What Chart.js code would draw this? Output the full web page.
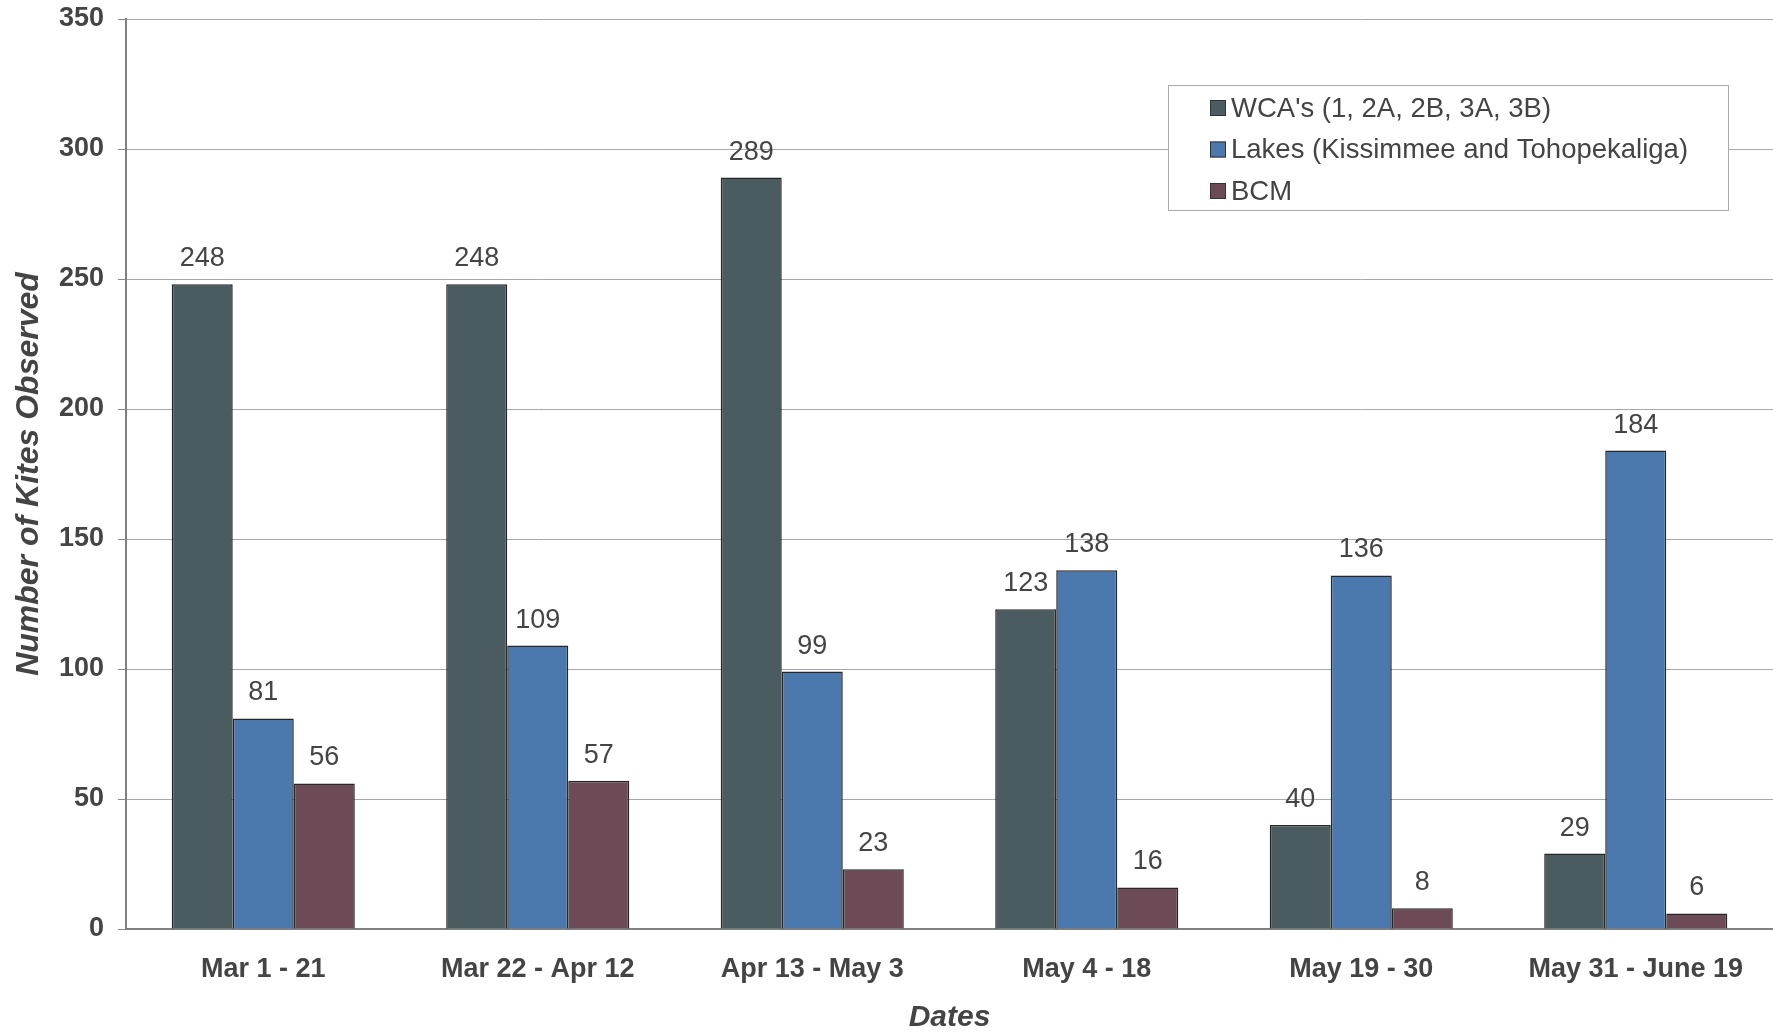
<!DOCTYPE html>
<html lang="en">
<head>
  <meta charset="UTF-8">
  <title>Number of Kites Observed</title>
  <script src="https://cdn.jsdelivr.net/npm/chart.js"></script>
  <style>
    body {
      margin: 0;
      background: #fff;
    }
    #wrap {
      width: 1773px;
      height: 1034px;
    }
  </style>
</head>
<body>

<div id="wrap">
  <canvas id="chartKites"></canvas>
</div>

<script>
  const dates = ["Mar 1 - 21", "Mar 22 - Apr 12", "Apr 13 - May 3", "May 4 - 18", "May 19 - 30", "May 31 - June 19"];
  const wcaCounts = [248, 248, 289, 123, 40, 29];
  const lakesCounts = [81, 109, 99, 138, 136, 184];
  const bcmCounts = [56, 57, 23, 16, 8, 6];

  const textColor = "#444";
  const fontFamily = "'Liberation Sans', Arial, sans-serif";

  // value above each bar
  const barValues = {
    id: "barValues",
    afterDatasetsDraw(chart) {
      const ctx = chart.ctx;
      ctx.save();
      ctx.font = "27px " + fontFamily;
      ctx.fillStyle = textColor;
      ctx.textAlign = "center";
      ctx.textBaseline = "bottom";
      chart.data.datasets.forEach((ds, i) => {
        chart.getDatasetMeta(i).data.forEach((bar, j) => {
          ctx.fillText(ds.data[j], bar.x, bar.y - 12);
        });
      });
      ctx.restore();
    }
  };

  // boxed legend inside the plot, top right
  const boxLegend = {
    id: "boxLegend",
    afterDraw(chart) {
      const ctx = chart.ctx;
      const x = 1168, y = 85, w = 560, h = 125;
      ctx.save();
      ctx.fillStyle = "#fff";
      ctx.fillRect(x, y, w, h);
      ctx.strokeStyle = "#aaa";
      ctx.lineWidth = 1;
      ctx.strokeRect(x + 0.5, y + 0.5, w, h);
      ctx.font = "27.5px " + fontFamily;
      ctx.textBaseline = "middle";
      chart.data.datasets.forEach((ds, i) => {
        const rowY = 108 + i * 41.5;
        ctx.fillStyle = ds.backgroundColor;
        ctx.fillRect(1210, rowY - 8, 16, 16);
        ctx.strokeStyle = "#333";
        ctx.strokeRect(1210.5, rowY - 7.5, 15, 15);
        ctx.fillStyle = textColor;
        ctx.fillText(ds.label, 1231, rowY + 1);
      });
      ctx.restore();
    }
  };

  new Chart(document.getElementById("chartKites"), {
    type: "bar",
    data: {
      labels: dates,
      datasets: [
        { label: "WCA's (1, 2A, 2B, 3A, 3B)", data: wcaCounts, backgroundColor: "#4a5c60" },
        { label: "Lakes (Kissimmee and Tohopekaliga)", data: lakesCounts, backgroundColor: "#4b79ae" },
        { label: "BCM", data: bcmCounts, backgroundColor: "#6c4b56" }
      ]
    },
    options: {
      responsive: true,
      maintainAspectRatio: false,
      animation: false,
      layout: { padding: { top: 19 } },
      datasets: {
        bar: {
          categoryPercentage: 0.667,
          barPercentage: 1.0,
          borderColor: "#262626",
          borderWidth: 1.5
        }
      },
      plugins: {
        legend: { display: false },
        tooltip: { enabled: false }
      },
      scales: {
        x: {
          afterFit: s => { s.height = 105; },
          grid: { display: false, offset: true, drawOnChartArea: false, tickLength: 7, tickColor: "#888" },
          border: { color: "#808080", width: 2 },
          ticks: {
            color: textColor,
            padding: 17,
            font: { family: fontFamily, size: 27, weight: "bold" }
          },
          title: {
            display: true,
            text: "Dates",
            color: textColor,
            padding: { top: 0, bottom: 0 },
            font: { family: fontFamily, size: 30, weight: "bold", style: "italic", lineHeight: 1.1 }
          }
        },
        y: {
          min: 0,
          max: 350,
          afterFit: s => {
            s.width = 126;
            s.paddingTop = 0;
            s.paddingBottom = 0;
          },
          grid: { color: "#a8a8a8", lineWidth: 1, tickLength: 8, tickColor: "#888" },
          border: { color: "#808080", width: 2 },
          ticks: {
            stepSize: 50,
            color: textColor,
            padding: 14,
            font: { family: fontFamily, size: 27, weight: "bold" }
          },
          title: {
            display: true,
            text: "Number of Kites Observed",
            color: textColor,
            padding: { top: 10, bottom: 0 },
            font: { family: fontFamily, size: 32, weight: "bold", style: "italic" }
          }
        }
      }
    },
    plugins: [barValues, boxLegend]
  });
</script>

</body>
</html>
